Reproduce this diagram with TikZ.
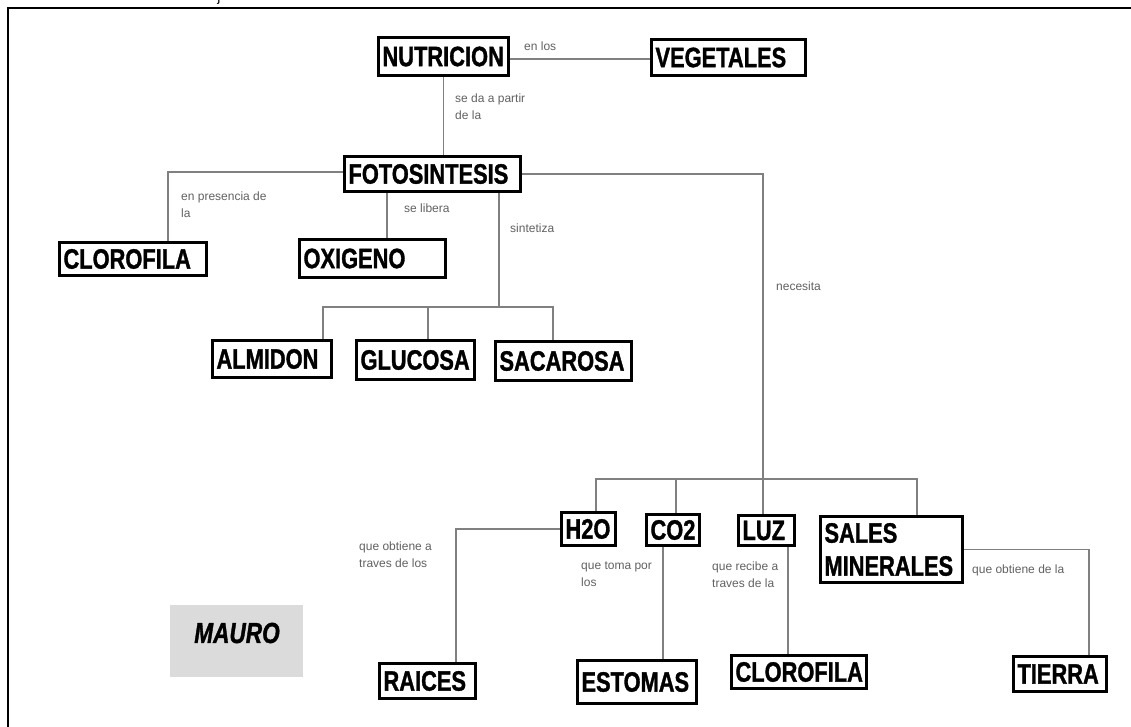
\documentclass[tikz,border=0pt]{standalone}
\usepackage{fontspec}
\newfontfamily\boxfont[FakeStretch=0.78, BoldFeatures={FakeBold=1.2}, BoldItalicFeatures={FakeBold=1.2}]{Liberation Sans}
\newfontfamily\labfont{Liberation Sans}
\usetikzlibrary{calc}
\newcommand\bx[6]{%
 \pgfmathsetmacro\bxw{#4-#2-11}\pgfmathsetmacro\bxh{#5-#3-3}%
 \node[bx, minimum height=\bxh pt, text width=\bxw pt] (#1) at ({(#2+#4)/2},{(#3+#5)/2}) {#6};}
\tikzset{
 bx/.style={draw=black, line width=3pt, fill=white, inner xsep=4pt, inner ysep=0pt, align=left,
   font=\boxfont\bfseries\fontsize{28}{33}\selectfont},
 lab/.style={inner sep=0pt, align=left, anchor=north west, text=black!62,
   font=\labfont\fontsize{12}{17}\selectfont},
 conn/.style={draw=black!50, line width=1.6pt},
 frame/.style={draw=black, line width=2pt}
}
\begin{document}
\begin{tikzpicture}[x=1pt,y=-1pt]
\useasboundingbox (0,0) rectangle (1131,727);
% frame and fragment
\coordinate (fA) at (8,727);
\coordinate (fB) at (8,8);
\coordinate (fC) at (1131,8);
\draw[frame] (fA) -- (fB) -- (fC);
\node[font=\labfont\fontsize{14}{14}\selectfont, anchor=base, inner sep=0pt] (jfrag) at (219,1.5) {j};
% junction coordinates
\coordinate (jnv) at (0,59);
\coordinate (jclo) at (168,172);
\coordinate (joxi) at (387,0);
\coordinate (jsin) at (499,0);
\coordinate (bar1) at (0,307);
\coordinate (dalm) at (323,0);
\coordinate (dglu) at (428,0);
\coordinate (dsac) at (553,0);
\coordinate (jnec) at (763,0);
\coordinate (bar2) at (0,479);
\coordinate (dh2o) at (596,0);
\coordinate (dco2) at (676,0);
\coordinate (dsal) at (917,0);
\coordinate (draic) at (456,0);
\coordinate (dest) at (663,0);
\coordinate (dclo) at (788,0);
\coordinate (dtie) at (1089,0);
% boxes
\bx{NUT}{377}{36}{510}{77}{NUTRICION}
\bx{VEG}{650}{38}{807}{77}{VEGETALES}
\bx{FOT}{343}{155}{522}{193}{FOTOSINTESIS}
\bx{CLA}{58}{241}{208}{277}{CLOROFILA}
\bx{OXI}{298}{238}{447}{279}{OXIGENO}
\bx{ALM}{211}{339}{333}{379}{ALMIDON}
\bx{GLU}{355}{339}{476}{381}{GLUCOSA}
\bx{SAC}{494}{340}{633}{382}{SACAROSA}
\bx{H2O}{560}{511}{617}{547}{H2O}
\bx{CO2}{645}{513}{701}{547}{CO2}
\bx{LUZ}{737}{514}{796}{547}{LUZ}
\bx{SAL}{819}{515}{964}{584}{SALES\\MINERALES}
\bx{RAI}{378}{662}{477}{700}{RAICES}
\bx{EST}{576}{659}{698}{705}{ESTOMAS}
\bx{CLB}{730}{654}{868}{690}{CLOROFILA}
\bx{TIE}{1012}{655}{1108}{693}{TIERRA}
% MAURO
\node[fill=black!14, minimum width=133pt, minimum height=72pt, inner sep=0pt] (MAU) at (236.5,641) {};
\node[font=\boxfont\bfseries\itshape\fontsize{29}{32}\selectfont, inner sep=0pt] (MAUt) at (237,633) {MAURO};
% connectors
\draw[conn] (NUT.east |- jnv) -- (VEG.west |- jnv);
\draw[conn] (NUT.south) -- (NUT.south |- FOT.north);
\draw[conn] (FOT.west |- jclo) -- (jclo) -- (jclo |- CLA.north);
\draw[conn] (joxi |- FOT.south) -- (joxi |- OXI.north);
\draw[conn] (jsin |- FOT.south) -- (jsin |- bar1);
\draw[conn] (dalm |- ALM.north) -- (dalm |- bar1) -- (dsac |- bar1) -- (dsac |- SAC.north);
\draw[conn] (dglu |- bar1) -- (dglu |- GLU.north);
\draw[conn] (FOT.east) -- (jnec |- FOT.east) -- (jnec |- LUZ.north);
\draw[conn] (dh2o |- H2O.north) -- (dh2o |- bar2) -- (dsal |- bar2) -- (dsal |- SAL.north);
\draw[conn] (dco2 |- bar2) -- (dco2 |- CO2.north);
\draw[conn] (H2O.west) -- (draic |- H2O.west) -- (draic |- RAI.north);
\draw[conn] (dest |- CO2.south) -- (dest |- EST.north);
\draw[conn] (dclo |- LUZ.south) -- (dclo |- CLB.north);
\draw[conn] (SAL.east) -- (dtie |- SAL.east) -- (dtie |- TIE.north);
% labels
\node[lab] (l1) at (524,42) {en los};
\node[lab] (l2) at (455,94) {se da a partir\\de la};
\node[lab] (l3) at (181,192) {en presencia de\\la};
\node[lab] (l4) at (404,204) {se libera};
\node[lab] (l5) at (510,224) {sintetiza};
\node[lab] (l6) at (776,282) {necesita};
\node[lab] (l7) at (359,542) {que obtiene a\\traves de los};
\node[lab] (l8) at (581,562) {que toma por\\los};
\node[lab] (l9) at (712,562) {que recibe a\\traves de la};
\node[lab] (l10) at (972,565) {que obtiene de la};
\end{tikzpicture}
\end{document}
